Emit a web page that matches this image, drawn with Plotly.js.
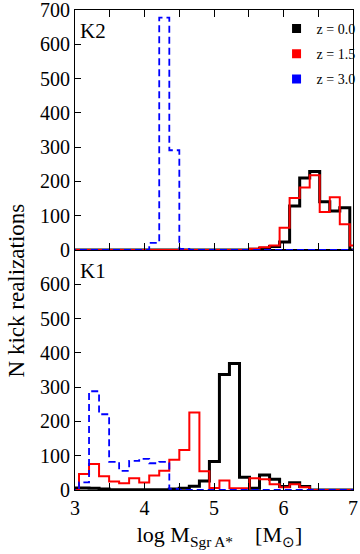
<!DOCTYPE html>
<html>
<head>
<meta charset="utf-8">
<script src="https://cdn.plot.ly/plotly-3.0.1.min.js"></script>
<style>html,body{margin:0;padding:0;background:#fff;}#chart{width:360px;height:554px;}</style>
</head>
<body>
<div id="chart"></div>
<script>
// Bin edges in log M (Msun)
const binEdges = [2.913, 3.058, 3.202, 3.346, 3.491, 3.635, 3.779, 3.924, 4.068, 4.212,
  4.357, 4.501, 4.645, 4.790, 4.934, 5.078, 5.222, 5.367, 5.511, 5.655,
  5.800, 5.944, 6.088, 6.233, 6.377, 6.521, 6.666, 6.810, 6.954, 7.099];

// K2 panel counts per bin
const k2_z00 = [0,0,0,0,0,0,0,0,0,0,0,0,0,0,0,0,0,0, 2,5,10,23,128,210,229,141,114,123,0];
const k2_z15 = [0,0,0,0,0,0,0,0,0,0,0,0,0,0,0,0,0,0, 4,8,13,65,152,182,218,111,154,75,13];
const k2_z30 = [0,0,0,0,0,0,0,0, 21,678,291,3, 0,0,0,0,0,0,0,0,0,0,0,0,0,0,0,0,0];

// K1 panel counts per bin
const k1_z00 = [6,6,5,3,1,1,1,1,1,1,3,5,11,26,83,337,369,37,5,44,31,10,21,10,0,0,0,0,0];
const k1_z15 = [0,47,76,40,25,20,34,22,42,56,88,117,226,55,6,28,5,5,34,31,17,8,17,8,0,0,0,0,0];
const k1_z30 = [0,22,288,221,82,56,85,91,78,82,3,0,0,0,0,0,0,0,0,0,0,0,0,0,0,0,0,0,0];

const seriesNames = ['z = 0.0', 'z = 1.5', 'z = 3.0'];
const seriesColors = ['#000000', '#ff0000', '#0000ff'];
const yTicksTop = [0,100,200,300,400,500,600,700];
const yTicksBottom = [0,100,200,300,400,500,600];

const FONT = 'Liberation Serif, Times New Roman, serif';

function step(counts, xa, ya, color, width, dash) {
  return {
    x: binEdges,
    y: counts.concat([counts[counts.length - 1]]),
    xaxis: xa, yaxis: ya,
    mode: 'lines',
    line: {shape: 'hv', color: color, width: width, dash: dash || 'solid'},
    showlegend: false, hoverinfo: 'skip'
  };
}

const traces = [
  step(k2_z00, 'x2', 'y2', seriesColors[0], 3),
  step(k2_z15, 'x2', 'y2', seriesColors[1], 2),
  step(k2_z30, 'x2', 'y2', seriesColors[2], 1.8, '7px,4px'),
  step(k1_z00, 'x', 'y', seriesColors[0], 3),
  step(k1_z15, 'x', 'y', seriesColors[1], 2),
  step(k1_z30, 'x', 'y', seriesColors[2], 1.8, '7px,4px')
];
seriesNames.forEach((n, i) => {
  traces.push({
    x: [null], y: [null], xaxis: 'x2', yaxis: 'y2',
    mode: 'markers', name: n, legendgroup: 'g' + i,
    marker: {symbol: 'square', size: 9, color: seriesColors[i]},
    showlegend: true
  });
});

const axisCommon = {
  range: [3, 7], showgrid: false, zeroline: false,
  showline: true, linecolor: '#000', linewidth: 1,
  ticks: 'inside', ticklen: 7, tickcolor: '#000', tickwidth: 1,
  tickmode: 'linear', tick0: 3, dtick: 1, ticklabeloverflow: 'allow',
  minor: {ticks: 'inside', ticklen: 7, tickcolor: '#000', tickwidth: 1, dtick: 0.5, tick0: 3, showgrid: false}
};

const yCommon = {
  range: [0, 700], showgrid: false, zeroline: false, showline: true,
  linecolor: '#000', linewidth: 1, mirror: true, ticks: 'inside', ticklen: 6,
  tickcolor: '#000', tickmode: 'array', tickfont: {family: FONT, size: 20},
  ticklabelstandoff: 0, ticklabeloverflow: 'allow'
};

const layout = {
  width: 360, height: 554,
  margin: {l: 75, r: 7, t: 10, b: 64, autoexpand: false},
  paper_bgcolor: '#fff', plot_bgcolor: '#fff',
  font: {family: FONT, size: 20, color: '#000'},
  xaxis: Object.assign({}, axisCommon, {
    anchor: 'y', domain: [0, 1], mirror: true,
    tickfont: {family: FONT, size: 20},
    title: {text: '&nbsp;&nbsp;log M<sub>Sgr A*</sub>&nbsp;&nbsp;&nbsp;&nbsp;[M<sub>⊙</sub>]',
            font: {family: FONT, size: 22}, standoff: 8}
  }),
  xaxis2: Object.assign({}, axisCommon, {
    anchor: 'y2', domain: [0, 1], mirror: 'ticks', showticklabels: false
  }),
  yaxis: Object.assign({}, yCommon, {
    domain: [0, 0.5], anchor: 'x',
    tickvals: yTicksBottom, ticktext: yTicksBottom.map(String)
  }),
  yaxis2: Object.assign({}, yCommon, {
    domain: [0.5, 1], anchor: 'x2',
    tickvals: yTicksTop, ticktext: yTicksTop.map(String)
  }),
  legend: {
    x: 0.725, y: 0.994, xanchor: 'left', yanchor: 'top',
    bgcolor: 'rgba(0,0,0,0)', borderwidth: 0,
    font: {family: FONT, size: 14}, tracegroupgap: 4
  },
  annotations: [
    {text: 'K2', xref: 'paper', yref: 'paper', x: 0.012, y: 0.985, xanchor: 'left', yanchor: 'top',
     showarrow: false, font: {family: FONT, size: 21}},
    {text: 'K1', xref: 'paper', yref: 'paper', x: 0.012, y: 0.485, xanchor: 'left', yanchor: 'top',
     showarrow: false, font: {family: FONT, size: 21}},
    {text: 'N kick realizations', xref: 'paper', yref: 'paper', x: -0.21, y: 0.415,
     xanchor: 'center', yanchor: 'middle', textangle: -90, showarrow: false,
     font: {family: FONT, size: 23}}
  ]
};

Plotly.newPlot('chart', traces, layout, {displayModeBar: false, staticPlot: true});
</script>
</body>
</html>
